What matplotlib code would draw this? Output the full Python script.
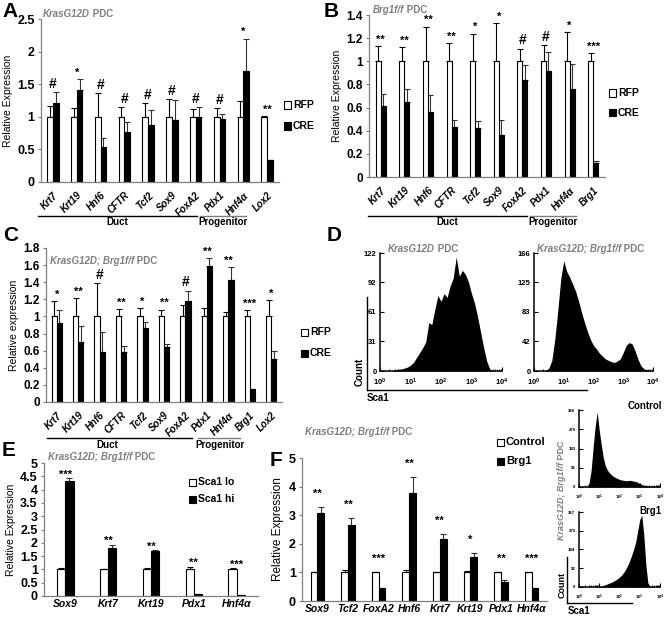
import numpy as np
import matplotlib
matplotlib.use('Agg')
import matplotlib.pyplot as plt
from matplotlib.lines import Line2D
from matplotlib.patches import Rectangle
from matplotlib.text import Annotation
from matplotlib.ticker import FuncFormatter, LogLocator, NullFormatter

plt.rcParams['font.family'] = ['Liberation Sans', 'DejaVu Sans']
plt.rcParams['font.weight'] = 'bold'
plt.rcParams['mathtext.default'] = 'regular'

W, H = 672, 618
GRAY = '#7f7f7f'

# --- Panel A: KrasG12D PDC ---
a_genes = ['Krt7', 'Krt19', 'Hnf6', 'CFTR', 'Tcf2', 'Sox9', 'FoxA2', 'Pdx1', 'Hnf4α', 'Lox2']
a_rfp = [1, 1, 1, 1, 1, 1, 1, 1, 1, 1]
a_rfp_err = [0.16, 0.13, 0.36, 0.15, 0.21, 0.27, 0.12, 0.13, 0.24, 0.01]
a_cre = [1.21, 1.41, 0.53, 0.76, 0.87, 0.95, 1.00, 0.97, 1.70, 0.34]
a_cre_err = [0.17, 0.17, 0.15, 0.16, 0.23, 0.31, 0.15, 0.07, 0.50, 0.0]
a_sig = ['#', '*', '#', '#', '#', '#', '#', '#', '*', '**']

# --- Panel B: Brg1f/f PDC ---
b_genes = ['Krt7', 'Krt19', 'Hnf6', 'CFTR', 'Tcf2', 'Sox9', 'FoxA2', 'Pdx1', 'Hnf4α', 'Brg1']
b_rfp = [1, 1, 1, 1, 1, 1, 1, 1, 1, 1]
b_rfp_err = [0.13, 0.12, 0.30, 0.16, 0.24, 0.33, 0.11, 0.14, 0.25, 0.07]
b_cre = [0.61, 0.65, 0.56, 0.43, 0.42, 0.36, 0.84, 0.92, 0.76, 0.12]
b_cre_err = [0.11, 0.11, 0.15, 0.06, 0.06, 0.13, 0.13, 0.16, 0.22, 0.02]
b_sig = ['**', '**', '**', '**', '*', '*', '#', '#', '*', '***']

# --- Panel C: KrasG12D; Brg1f/f PDC ---
c_genes = ['Krt7', 'Krt19', 'Hnf6', 'CFTR', 'Tcf2', 'Sox9', 'FoxA2', 'Pdx1', 'Hnf4α', 'Brg1', 'Lox2']
c_rfp = [1, 1, 1, 1, 1, 1, 1, 1, 1, 1, 1]
c_rfp_err = [0.18, 0.21, 0.39, 0.09, 0.10, 0.08, 0.13, 0.10, 0.05, 0.07, 0.19]
c_cre = [0.92, 0.70, 0.58, 0.59, 0.87, 0.64, 1.18, 1.59, 1.43, 0.15, 0.50]
c_cre_err = [0.15, 0.19, 0.24, 0.06, 0.07, 0.04, 0.12, 0.09, 0.15, 0.0, 0.10]
c_sig = ['*', '**', '#', '**', '*', '**', '#', '**', '**', '***', '*']

# --- Panel D: Sca1 flow histograms, counts at log10(Sca1) = 0.0, 0.1, ... 4.0 ---
d_left = [0, 0, 0, 0, 0, 1, 2, 2, 3, 4, 6, 9, 14, 19, 24, 30, 50, 48, 64, 78, 72,
          80, 76, 88, 96, 118, 98, 104, 100, 92, 80, 70, 56, 40, 24, 10, 2, 0, 0, 0, 0]
d_left_ticks = [0, 31, 61, 92, 122]
d_right = [0, 0, 0, 0, 1, 4, 15, 45, 85, 130, 155, 140, 132, 122, 112, 98, 82, 68, 55, 44, 36,
           31, 25, 21, 17, 15, 13, 12, 14, 17, 26, 36, 40, 38, 28, 16, 7, 3, 1, 0, 0]
d_right_ticks = [0, 42, 83, 125, 166]

# --- Panel E ---
e_genes = ['Sox9', 'Krt7', 'Krt19', 'Pdx1', 'Hnf4α']
e_lo = [1, 1, 1, 1, 1]
e_lo_err = [0.05, 0.01, 0.06, 0.10, 0.04]
e_hi = [4.33, 1.80, 1.68, 0.08, 0.02]
e_hi_err = [0.09, 0.13, 0.05, 0.0, 0.0]
e_sig = ['***', '**', '**', '**', '***']

# --- Panel F ---
f_genes = ['Sox9', 'Tcf2', 'FoxA2', 'Hnf6', 'Krt7', 'Krt19', 'Pdx1', 'Hnf4α']
f_ctrl = [1, 1, 1, 1, 1, 1, 1, 1]
f_ctrl_err = [0.0, 0.08, 0.02, 0.10, 0.0, 0.06, 0.0, 0.02]
f_brg1 = [3.08, 2.67, 0.46, 3.77, 2.18, 1.55, 0.68, 0.46]
f_brg1_err = [0.19, 0.23, 0.0, 0.55, 0.15, 0.13, 0.05, 0.0]
f_sig = ['**', '**', '***', '**', '**', '*', '**', '***']
f_hist_ctrl = [0, 0, 0, 0, 2, 20, 80, 190, 290, 355, 270, 200, 140, 100, 80, 68, 58, 50, 45, 40, 36,
               33, 32, 30, 30, 32, 30, 28, 26, 22, 16, 12, 9, 7, 5, 4, 3, 2, 1, 0, 0]
f_hist_ctrl_ticks = [0, 92, 183, 275, 366]
f_hist_brg1 = [0, 0, 0, 0, 0, 0, 0, 0, 0, 1, 2, 4, 7, 11, 15, 19, 23, 28, 34, 40, 48,
               58, 70, 86, 105, 128, 155, 185, 220, 275, 330, 350, 255, 110, 20, 3, 0, 0, 0, 0, 0]
f_hist_brg1_ticks = [0, 92, 184, 275, 367]

fig = plt.figure(figsize=(W / 100, H / 100), dpi=100)


def px_axes(x0, y0, x1, y1):
    return fig.add_axes([x0 / W, 1 - y1 / H, (x1 - x0) / W, (y1 - y0) / H])


def fig_text(x, y, s, **kw):
    return fig.text(x / W, 1 - y / H, s, **kw)


def fig_line(x0, y0, x1, y1, color='black', lw=1.0):
    fig.add_artist(Line2D([x0 / W, x1 / W], [1 - y0 / H, 1 - y1 / H],
                          transform=fig.transFigure, color=color, lw=lw))


def title_px(x, y, italic, normal, size=7, rotation=0):
    # italic gene part, then plain " PDC" glued to its end
    if rotation == 0:
        t1 = fig_text(x, y, italic, style='italic', color=GRAY, fontsize=size,
                      ha='left', va='baseline')
        ann = Annotation(normal, xy=(1, 0), xycoords=t1, ha='left', va='bottom',
                         color=GRAY, fontsize=size, fontweight='bold')
    else:
        t1 = fig_text(x, y, italic, style='italic', color=GRAY, fontsize=size,
                      rotation=rotation, ha='center', va='bottom')
        ann = Annotation(normal, xy=(0.5, 1), xycoords=t1, ha='center', va='bottom',
                         color=GRAY, fontsize=size, fontweight='bold', rotation=rotation)
    fig.add_artist(ann)


def legend_px(x, y, color, label, size=7.5):
    fig.add_artist(Rectangle((x / W, 1 - (y + 3.5) / H), 7 / W, 7 / H, transform=fig.transFigure,
                             facecolor=color, edgecolor='black', lw=0.8))
    fig_text(x + 9, y, label, fontsize=size, va='center', ha='left')


def bar_panel(ax, genes, white, white_err, black, black_err, sig, width, ymax, ystep,
              sig_pts=1.0, rotate=True, ylabel='Relative Expression', ysize=8.5, lsize=7,
              labsize=7.5):
    n = len(genes)
    x = np.arange(n)
    white = np.array(white, dtype=float)
    black = np.array(black, dtype=float)
    white_err = np.array(white_err)
    black_err = np.array(black_err)
    ax.bar(x - width / 2, white, width, color='white', edgecolor='black', linewidth=0.8, zorder=2)
    ax.bar(x + width / 2, black, width, color='black', edgecolor='black', linewidth=0.8, zorder=2)
    ax.errorbar(x - width / 2, white, yerr=[np.zeros(n), white_err], fmt='none', ecolor='black',
                elinewidth=0.8, capsize=2, capthick=0.8, zorder=3)
    ax.errorbar(x + width / 2, black, yerr=[np.zeros(n), black_err], fmt='none', ecolor='#333333',
                elinewidth=0.8, capsize=2, capthick=0.8, zorder=1)
    tops = np.maximum(white + white_err, black + black_err)
    for xi, t, s in zip(x, tops, sig):
        ax.annotate(s, (xi, t), xytext=(0, sig_pts), textcoords='offset points', ha='center',
                    va='bottom', fontsize=10 if s == '#' else 8, fontweight='bold',
                    annotation_clip=False)
    ax.set_xlim(-0.5, n - 0.5)
    ax.set_ylim(0, ymax)
    ax.set_yticks(np.arange(0, ymax + 1e-9, ystep))
    ax.yaxis.set_major_formatter(FuncFormatter(lambda v, p: '%g' % round(v, 2)))
    ax.set_xticks(x)
    if rotate:
        ax.set_xticklabels(genes, rotation=45, ha='right', rotation_mode='anchor',
                           style='italic', fontsize=lsize)
        ax.tick_params(axis='x', length=0, pad=6)
    else:
        ax.set_xticklabels(genes, style='italic', fontsize=lsize)
        ax.tick_params(axis='x', length=0, pad=2)
    ax.tick_params(axis='y', labelsize=ysize, length=2.5, color=GRAY, pad=2)
    for side in ['top', 'right']:
        ax.spines[side].set_visible(False)
    for side in ['left', 'bottom']:
        ax.spines[side].set_color(GRAY)
        ax.spines[side].set_linewidth(0.9)
    ax.set_ylabel(ylabel, fontsize=labsize, labelpad=3)


def hist_panel(ax, counts, yticks, tsize=5):
    lx = np.arange(len(counts)) * 0.1
    ax.fill_between(10 ** lx, counts, color='black', lw=0)
    ax.set_xscale('log')
    ax.set_xlim(1, 1e4)
    ax.set_ylim(0, yticks[-1])
    ax.set_yticks(yticks)
    ax.set_yticklabels([str(v) for v in yticks])
    ax.set_xticks([1, 10, 100, 1000, 10000])
    ax.set_xticklabels(['10$^{%d}$' % i for i in range(5)])
    ax.xaxis.set_minor_locator(LogLocator(subs=np.arange(2, 10)))
    ax.xaxis.set_minor_formatter(NullFormatter())
    ax.tick_params(axis='both', which='major', labelsize=tsize, direction='in', length=3, width=0.8)
    ax.tick_params(axis='x', which='major', pad=4)
    ax.tick_params(axis='y', which='major', pad=2.5)
    ax.tick_params(axis='x', which='minor', direction='in', length=1.5, width=0.6)
    for side in ['top', 'right']:
        ax.spines[side].set_visible(False)
    for side in ['left', 'bottom']:
        ax.spines[side].set_linewidth(1.1)


# Panel A
ax_a = px_axes(41, 19, 279, 182)
bar_panel(ax_a, a_genes, a_rfp, a_rfp_err, a_cre, a_cre_err, a_sig, 0.24, 2.5, 0.5, ysize=9)
title_px(43, 17, 'KrasG12D', ' PDC')
legend_px(284, 105, 'white', 'RFP')
legend_px(284, 126, 'black', 'CRE')
fig_text(2, 2, 'A', fontsize=15, va='top')

# Panel B
ax_b = px_axes(369, 15, 605, 177)
bar_panel(ax_b, b_genes, b_rfp, b_rfp_err, b_cre, b_cre_err, b_sig, 0.21, 1.4, 0.2)
title_px(373, 13, 'Brg1f/f', ' PDC')
legend_px(609, 93, 'white', 'RFP')
legend_px(609, 113, 'black', 'CRE')
fig_text(324, 2, 'B', fontsize=15, va='top')

# Duct / Progenitor brackets for A and B
for x0, x1, x2, x3 in [(38, 197, 200, 246), (368, 527, 530, 576)]:
    fig_line(x0, 216, x1, 216)
    fig_line(x2, 216, x3, 216, color=GRAY)
    fig_text((x0 + x1) / 2, 222, 'Duct', fontsize=7, ha='center', va='center')
    fig_text((x2 + x3) / 2, 222, 'Progenitor', fontsize=7, ha='center', va='center')

# Panel C
ax_c = px_axes(46, 248, 282, 402)
bar_panel(ax_c, c_genes, c_rfp, c_rfp_err, c_cre, c_cre_err, c_sig, 0.24, 1.8, 0.2,
          ylabel='Relative expression')
title_px(50, 264, 'KrasG12D; Brg1f/f', ' PDC')
legend_px(301, 332, 'white', 'RFP')
legend_px(301, 353, 'black', 'CRE')
fig_text(3, 226, 'C', fontsize=15, va='top')
fig_line(47, 438, 192, 438)
fig_line(198, 438, 240, 438, color=GRAY)
fig_text(107, 445, 'Duct', fontsize=7, ha='center', va='center')
fig_text(220, 445, 'Progenitor', fontsize=7, ha='center', va='center')

# Panel D
ax_d1 = px_axes(380, 253, 502, 371)
hist_panel(ax_d1, d_left, d_left_ticks, tsize=5.5)
ax_d2 = px_axes(534, 253, 653, 371)
hist_panel(ax_d2, d_right, d_right_ticks, tsize=5.5)
title_px(388, 252, 'KrasG12D', ' PDC')
title_px(537, 252, 'KrasG12D; Brg1f/f', ' PDC')
fig_line(367, 297, 367, 390)
fig_line(367, 390, 587, 390)
fig_text(360, 372, 'Count', fontsize=7, rotation=90, ha='center', va='center')
fig_text(367, 398, 'Sca1', fontsize=7, ha='left', va='center')
fig_text(327, 226, 'D', fontsize=15, va='top')

# Panel E
ax_e = px_axes(44, 463, 258, 596)
bar_panel(ax_e, e_genes, e_lo, e_lo_err, e_hi, e_hi_err, e_sig, 0.19, 5, 0.5,
          sig_pts=-1, rotate=False, ysize=9, lsize=7.5)
title_px(48, 460, 'KrasG12D; Brg1f/f', ' PDC')
legend_px(189, 482, 'white', 'Sca1 lo')
legend_px(189, 499, 'black', 'Sca1 hi')
fig_text(2, 441, 'E', fontsize=15, va='top')

# Panel F
ax_f = px_axes(302, 458, 547, 601)
bar_panel(ax_f, f_genes, f_ctrl, f_ctrl_err, f_brg1, f_brg1_err, f_sig, 0.22, 5, 1,
          sig_pts=6, rotate=False, ysize=9, lsize=7.5, labsize=8.5)
title_px(305, 435, 'KrasG12D; Brg1f/f', ' PDC')
legend_px(497, 442, 'white', 'Control', size=8)
legend_px(497, 461, 'black', 'Brg1', size=8)
fig_text(270, 451, 'F', fontsize=15, va='top')

ax_f1 = px_axes(579, 410, 660, 487)
hist_panel(ax_f1, f_hist_ctrl, f_hist_ctrl_ticks, tsize=3.2)
ax_f2 = px_axes(579, 512, 660, 587)
hist_panel(ax_f2, f_hist_brg1, f_hist_brg1_ticks, tsize=3.2)
fig_text(662, 406, 'Control', fontsize=7, ha='right', va='center')
fig_text(662, 511, 'Brg1', fontsize=7, ha='right', va='center')
fig_line(567, 557, 567, 603)
fig_line(567, 603, 632, 603)
fig_text(562, 585, 'Count', fontsize=6.5, rotation=90, ha='center', va='center')
fig_text(568, 611, 'Sca1', fontsize=7, ha='left', va='center')
title_px(562, 540, 'KrasG12D; Brg1f/f', ' PDC', size=6.5, rotation=90)

fig.savefig('out.png', dpi=100)
